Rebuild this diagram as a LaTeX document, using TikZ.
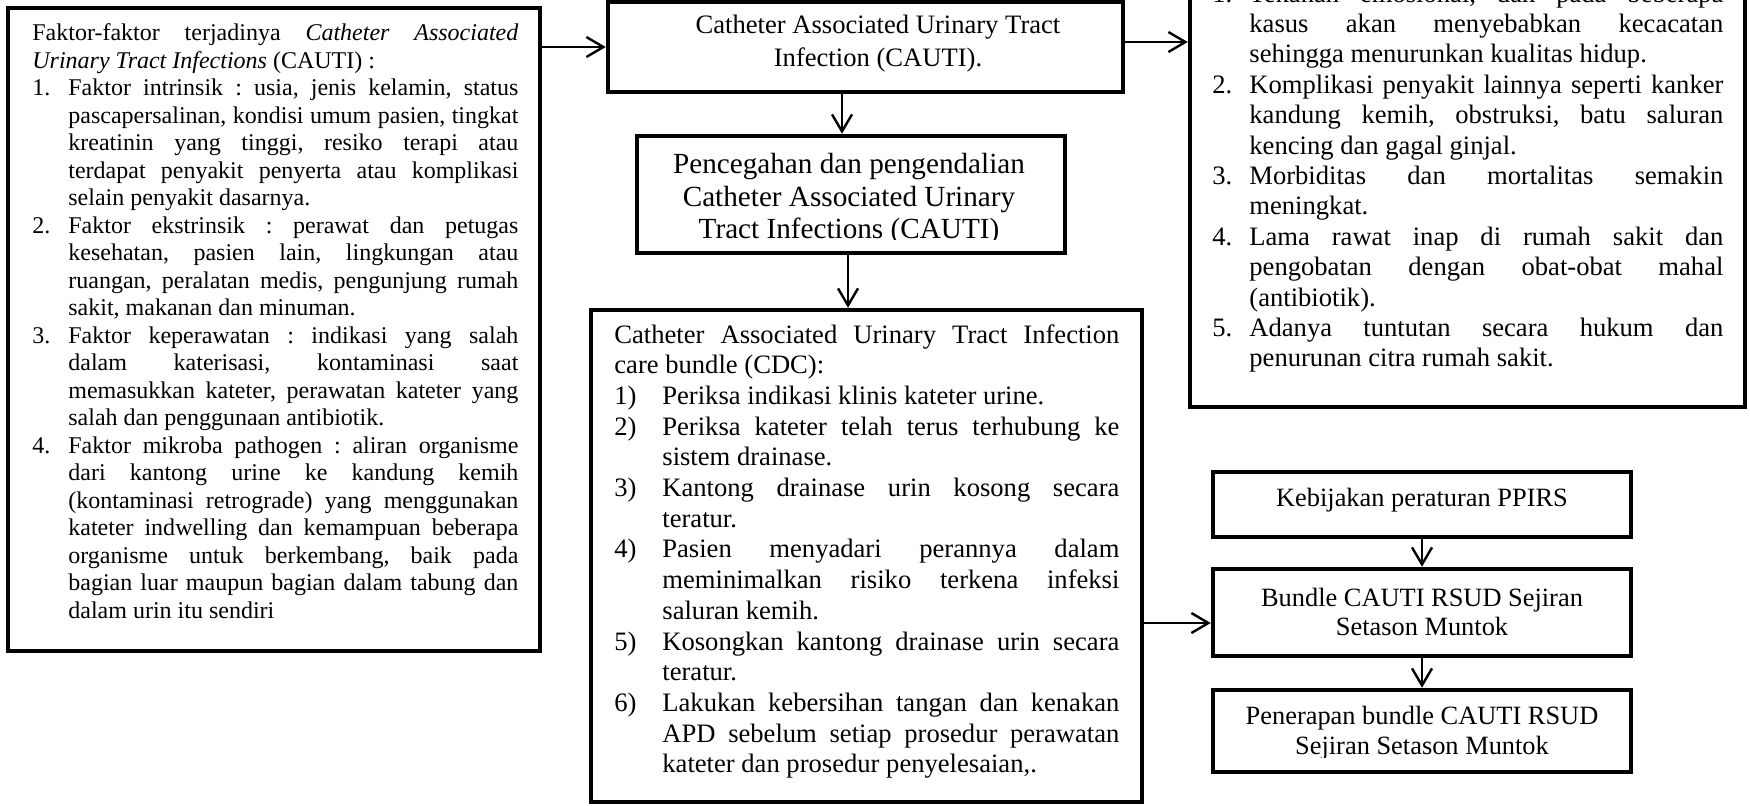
\documentclass[tikz,border=0pt]{standalone}
\usepackage{fontspec}
\setmainfont{Liberation Serif}
\usetikzlibrary{arrows.meta,calc}
\frenchspacing
\newdimen\indw
\newcommand\JLx[1]{\hbox to\hsize{#1}}
\newcommand\LLx[1]{\hbox to\hsize{#1\hfil}}
\newcommand\CLx[1]{\hbox to\hsize{\hfil#1\hfil}}
\newcommand\NBx[1]{\hbox to\indw{#1\hfil}}
\newcommand\INx{\hskip\indw}
\begin{document}
\begin{tikzpicture}[x=0.5pt,y=-0.5pt,
  box/.style={draw, line width=2.25pt, rectangle, inner sep=0pt},
  txt/.style={inner sep=0pt},
  arr/.style={line width=1.2pt, -{Straight Barb[length=8.5pt,width=10pt]}}]
\fill[white] (0,0) rectangle (1750,805);
\useasboundingbox (0,0) rectangle (1750,805);

% boxes
\node[box, minimum width=266pt, minimum height=321.5pt] (lbox) at (274,329.5) {};
\node[box, minimum width=257.5pt, minimum height=45pt] (cauti) at (865.5,47) {};
\node[box, minimum width=214pt, minimum height=58.5pt] (pence) at (851,194.5) {};
\node[box, minimum width=275.5pt, minimum height=246pt] (cdc) at (866.5,556) {};
\node[box, minimum width=277.5pt, minimum height=233.5pt] (rbox) at (1467.5,173.5) {};
\node[box, minimum width=209pt, minimum height=32.5pt] (keb) at (1422,504.5) {};
\node[box, minimum width=209pt, minimum height=43.5pt] (bund) at (1422,612.5) {};
\node[box, minimum width=209pt, minimum height=41pt] (pener) at (1422,731) {};

% left text
\node[txt, anchor=base west] (ltxt) at (32,40.5) {\vtop{\hsize=243pt\indw=18pt\fontsize{12}{13.75}\selectfont
\JLx{Faktor-faktor terjadinya \textit{Catheter Associated}}
\LLx{\textit{Urinary Tract Infections} (CAUTI) :}
\JLx{\NBx{1.}Faktor intrinsik : usia, jenis kelamin, status}
\JLx{\INx pascapersalinan, kondisi umum pasien, tingkat}
\JLx{\INx kreatinin yang tinggi, resiko terapi atau}
\JLx{\INx terdapat penyakit penyerta atau komplikasi}
\LLx{\INx selain penyakit dasarnya.}
\JLx{\NBx{2.}Faktor ekstrinsik : perawat dan petugas}
\JLx{\INx kesehatan, pasien lain, lingkungan atau}
\JLx{\INx ruangan, peralatan medis, pengunjung rumah}
\LLx{\INx sakit, makanan dan minuman.}
\JLx{\NBx{3.}Faktor keperawatan : indikasi yang salah}
\JLx{\INx dalam katerisasi, kontaminasi saat}
\JLx{\INx memasukkan kateter, perawatan kateter yang}
\LLx{\INx salah dan penggunaan antibiotik.}
\JLx{\NBx{4.}Faktor mikroba pathogen : aliran organisme}
\JLx{\INx dari kantong urine ke kandung kemih}
\JLx{\INx (kontaminasi retrograde) yang menggunakan}
\JLx{\INx kateter indwelling dan kemampuan beberapa}
\JLx{\INx organisme untuk berkembang, baik pada}
\JLx{\INx bagian luar maupun bagian dalam tabung dan}
\LLx{\INx dalam urin itu sendiri}}};

% CAUTI text
\node[txt, anchor=base] (cautit) at (878,33) {\vtop{\hsize=240pt\fontsize{13.3}{16.5}\selectfont
\CLx{Catheter Associated Urinary Tract}
\CLx{Infection (CAUTI).}}};

% Pencegahan text (clipped at bottom)
\begin{scope}
\clip (637,136) rectangle (1065,239);
\node[txt, anchor=base] (pencet) at (849,173.5) {\vtop{\hsize=205pt\fontsize{14.6}{16.25}\selectfont
\CLx{Pencegahan dan pengendalian}
\CLx{Catheter Associated Urinary}
\CLx{Tract Infections (CAUTI)}}};
\end{scope}

% CDC text
\node[txt, anchor=base west] (cdct) at (614,343) {\vtop{\hsize=252.5pt\indw=24pt\fontsize{13.3}{15.35}\selectfont
\JLx{Catheter Associated Urinary Tract Infection}
\LLx{care bundle (CDC):}
\LLx{\NBx{1)}Periksa indikasi klinis kateter urine.}
\JLx{\NBx{2)}Periksa kateter telah terus terhubung ke}
\LLx{\INx sistem drainase.}
\JLx{\NBx{3)}Kantong drainase urin kosong secara}
\LLx{\INx teratur.}
\JLx{\NBx{4)}Pasien menyadari perannya dalam}
\JLx{\INx meminimalkan risiko terkena infeksi}
\LLx{\INx saluran kemih.}
\JLx{\NBx{5)}Kosongkan kantong drainase urin secara}
\LLx{\INx teratur.}
\JLx{\NBx{6)}Lakukan kebersihan tangan dan kenakan}
\JLx{\INx APD sebelum setiap prosedur perawatan}
\LLx{\INx kateter dan prosedur penyelesaian,.}}};

% right text
\node[txt, anchor=base west] (rtxt) at (1212,2) {\vtop{\hsize=255.5pt\indw=18.5pt\fontsize{13.3}{15.2}\selectfont
\JLx{\NBx{1.}Tekanan emosional, dan pada beberapa}
\JLx{\INx kasus akan menyebabkan kecacatan}
\LLx{\INx sehingga menurunkan kualitas hidup.}
\JLx{\NBx{2.}Komplikasi penyakit lainnya seperti kanker}
\JLx{\INx kandung kemih, obstruksi, batu saluran}
\LLx{\INx kencing dan gagal ginjal.}
\JLx{\NBx{3.}Morbiditas dan mortalitas semakin}
\LLx{\INx meningkat.}
\JLx{\NBx{4.}Lama rawat inap di rumah sakit dan}
\JLx{\INx pengobatan dengan obat-obat mahal}
\LLx{\INx (antibiotik).}
\JLx{\NBx{5.}Adanya tuntutan secara hukum dan}
\LLx{\INx penurunan citra rumah sakit.}}};

% bottom right texts
\node[txt, anchor=base] (kebt) at (1422,506) {\vtop{\hsize=200pt\fontsize{13.2}{14.5}\selectfont
\CLx{Kebijakan peraturan PPIRS}}};
\node[txt, anchor=base] (bundt) at (1422,606) {\vtop{\hsize=200pt\fontsize{13.2}{14.5}\selectfont
\CLx{Bundle CAUTI RSUD Sejiran}
\CLx{Setason Muntok}}};
\begin{scope}
\clip (1213,690) rectangle (1631,757);
\node[txt, anchor=base] (penert) at (1422,724) {\vtop{\hsize=200pt\fontsize{13.2}{15}\selectfont
\CLx{Penerapan bundle CAUTI RSUD}
\CLx{Sejiran Setason Muntok}}};
\end{scope}

% arrows
\draw[arr] (cauti.west -| lbox.east) -- (cauti.west);
\draw[arr] ([yshift=2.5pt]cauti.east) -- ([yshift=2.5pt]cauti.east -| rbox.west);
\draw[arr] ([xshift=-4.5pt]pence.north |- cauti.south) -- ([xshift=-4.5pt]pence.north);
\draw[arr] ([xshift=-1.5pt]pence.south) -- ([xshift=-1.5pt]pence.south |- cdc.north);
\draw[arr] ([yshift=-5.25pt]bund.west -| cdc.east) -- ([yshift=-5.25pt]bund.west);
\draw[arr] (keb.south) -- (bund.north);
\draw[arr] (bund.south) -- (pener.north);
\end{tikzpicture}
\end{document}
